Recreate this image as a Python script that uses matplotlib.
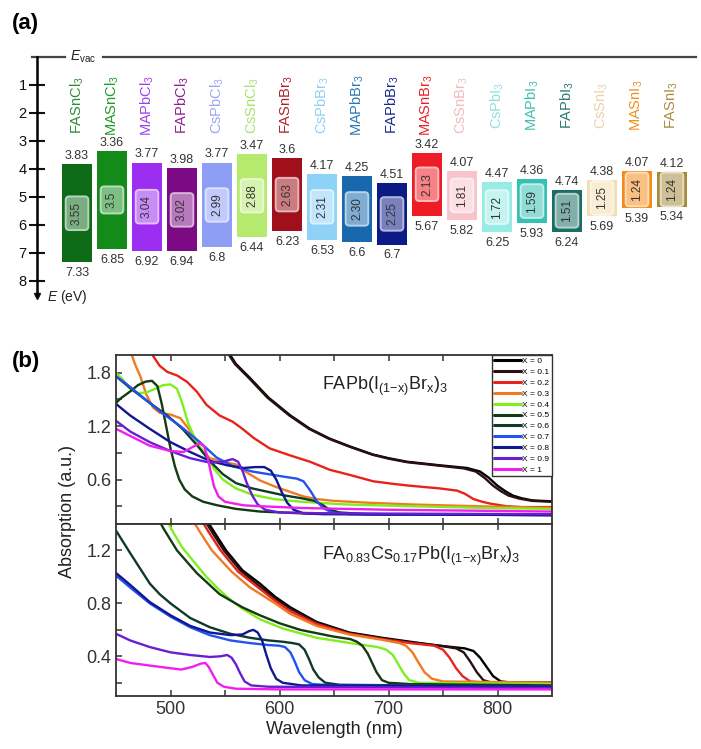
import matplotlib
matplotlib.use("Agg")
import matplotlib.pyplot as plt
from matplotlib.colors import to_rgb

plt.rcParams['font.family'] = ['Liberation Sans', 'DejaVu Sans']
plt.rcParams['mathtext.fontset'] = 'custom'
plt.rcParams['mathtext.rm'] = 'Liberation Sans'
plt.rcParams['mathtext.it'] = 'Liberation Sans:italic'
plt.rcParams['mathtext.bf'] = 'Liberation Sans:bold'

# ---------------- panel (a) data ----------------
materials = ["FASnCl$_3$", "MASnCl$_3$", "MAPbCl$_3$", "FAPbCl$_3$", "CsPbCl$_3$", "CsSnCl$_3$",
             "FASnBr$_3$", "CsPbBr$_3$", "MAPbBr$_3$", "FAPbBr$_3$", "MASnBr$_3$", "CsSnBr$_3$",
             "CsPbI$_3$", "MAPbI$_3$", "FAPbI$_3$", "CsSnI$_3$", "MASnI$_3$", "FASnI$_3$"]
cbm = [3.83, 3.36, 3.77, 3.98, 3.77, 3.47, 3.6, 4.17, 4.25, 4.51, 3.42, 4.07, 4.47, 4.36, 4.74, 4.38, 4.07, 4.12]
vbm = [7.33, 6.85, 6.92, 6.94, 6.8, 6.44, 6.23, 6.53, 6.6, 6.7, 5.67, 5.82, 6.25, 5.93, 6.24, 5.69, 5.39, 5.34]
cbm_text = ["3.83", "3.36", "3.77", "3.98", "3.77", "3.47", "3.6", "4.17", "4.25", "4.51", "3.42", "4.07",
            "4.47", "4.36", "4.74", "4.38", "4.07", "4.12"]
vbm_text = ["7.33", "6.85", "6.92", "6.94", "6.8", "6.44", "6.23", "6.53", "6.6", "6.7", "5.67", "5.82",
            "6.25", "5.93", "6.24", "5.69", "5.39", "5.34"]
gaps = ["3.55", "3.5", "3.04", "3.02", "2.99", "2.88", "2.63", "2.31", "2.30", "2.25", "2.13", "1.81",
        "1.72", "1.59", "1.51", "1.25", "1.24", "1.24"]
bar_colors = ["#0d6b18", "#138a1a", "#9b2ef0", "#7d0a85", "#8f9ef5", "#b5ea6e", "#a0101a", "#8fd2f8",
              "#1768ad", "#0c1a85", "#ee1c24", "#f8c4cc", "#98ece6", "#35c2b4", "#1b6e62", "#f2deb0",
              "#f58c1a", "#a58a3c"]
label_colors = ["#2e8b34", "#1f9a28", "#a040f0", "#8a208f", "#9aa6f2", "#a8e070", "#b0202a", "#90d0f2",
                "#2a78b8", "#1a2890", "#e82028", "#f4b8c0", "#90e0dc", "#3cc0b2", "#2a7a6c", "#e8d4a4",
                "#f09020", "#a88a40"]
e_ticks = [1, 2, 3, 4, 5, 6, 7, 8]

# ---------------- panel (b) data: FAPb(I1-xBrx)3 ----------------
compositions = ["X = 0", "X = 0.1", "X = 0.2", "X = 0.3", "X = 0.4", "X = 0.5",
                "X = 0.6", "X = 0.7", "X = 0.8", "X = 0.9", "X = 1"]
line_colors = ["#000000", "#2a1010", "#e8231a", "#f07a24", "#80ee1e", "#143a12",
               "#0e3a2a", "#2252f0", "#0e1890", "#6a1ed2", "#f01ef0"]

fa_x00 = [(552, 2.05), (560, 1.90), (573, 1.74), (590, 1.52), (610, 1.32), (628, 1.17), (646, 1.06),
          (665, 0.97), (686, 0.88), (700, 0.84), (717, 0.80), (747, 0.76), (772, 0.73), (784, 0.69),
          (792, 0.62), (800, 0.53), (807, 0.47), (814, 0.42), (822, 0.39), (832, 0.365), (850, 0.355)]
fa_x01 = [(551, 2.05), (559, 1.90), (572, 1.74), (589, 1.52), (609, 1.32), (627, 1.17), (645, 1.06),
          (664, 0.97), (685, 0.88), (700, 0.835), (717, 0.795), (747, 0.755), (769, 0.725), (780, 0.69),
          (788, 0.62), (796, 0.53), (803, 0.47), (810, 0.42), (820, 0.385), (832, 0.36), (850, 0.35)]
fa_x02 = [(481, 2.05), (484, 1.99), (490, 1.88), (497, 1.81), (506, 1.77), (515, 1.70), (524, 1.59),
          (533, 1.44), (545, 1.32), (557, 1.25), (566, 1.17), (576, 1.07), (591, 0.95), (610, 0.87),
          (628, 0.80), (646, 0.71), (665, 0.65), (686, 0.58), (705, 0.55), (720, 0.53), (747, 0.50),
          (763, 0.475), (770, 0.44), (778, 0.38), (786, 0.35), (793, 0.33), (808, 0.30), (823, 0.29),
          (850, 0.29)]
fa_x03 = [(463, 2.05), (468, 1.88), (472, 1.77), (478, 1.55), (484, 1.41), (490, 1.35), (500, 1.33),
          (509, 1.29), (518, 1.15), (527, 0.96), (536, 0.84), (548, 0.80), (560, 0.77), (570, 0.68),
          (582, 0.59), (596, 0.52), (610, 0.46), (622, 0.41), (634, 0.38), (650, 0.36), (680, 0.34),
          (720, 0.32), (780, 0.30), (850, 0.28)]
fa_x04 = [(450, 1.80), (455, 1.74), (462, 1.63), (470, 1.57), (478, 1.58), (486, 1.62), (493, 1.66),
          (500, 1.67), (506, 1.62), (511, 1.45), (516, 1.24), (521, 1.10), (527, 0.97), (533, 0.86),
          (540, 0.72), (548, 0.60), (560, 0.50), (575, 0.43), (595, 0.38), (620, 0.35), (660, 0.32),
          (720, 0.30), (790, 0.28), (850, 0.27)]
fa_x05 = [(450, 1.46), (454, 1.51), (463, 1.59), (470, 1.66), (477, 1.70), (483, 1.71), (488, 1.65),
          (492, 1.45), (496, 1.20), (500, 0.95), (504, 0.75), (508, 0.60), (513, 0.49), (520, 0.41),
          (530, 0.35), (543, 0.31), (560, 0.27), (582, 0.24), (620, 0.22), (700, 0.21), (850, 0.20)]
fa_x06 = [(450, 1.76), (465, 1.61), (480, 1.47), (497, 1.32), (511, 1.17), (524, 0.99), (536, 0.81),
          (548, 0.66), (560, 0.56), (575, 0.50), (590, 0.46), (605, 0.42), (620, 0.39), (632, 0.36),
          (640, 0.31), (646, 0.26), (655, 0.23), (680, 0.21), (850, 0.21)]
fa_x07 = [(450, 1.76), (457, 1.70), (473, 1.54), (491, 1.36), (509, 1.20), (527, 1.02), (542, 0.85),
          (557, 0.75), (575, 0.69), (590, 0.66), (605, 0.63), (616, 0.61), (622, 0.58), (628, 0.48),
          (634, 0.36), (640, 0.28), (648, 0.23), (665, 0.21), (850, 0.20)]
fa_x08 = [(450, 1.45), (463, 1.32), (481, 1.17), (500, 1.02), (518, 0.91), (536, 0.81), (552, 0.76),
          (567, 0.73), (578, 0.74), (586, 0.74), (592, 0.70), (597, 0.60), (602, 0.46), (607, 0.34),
          (613, 0.26), (622, 0.22), (640, 0.21), (850, 0.20)]
fa_x09 = [(450, 1.26), (463, 1.14), (481, 1.02), (500, 0.92), (518, 0.84), (536, 0.79), (548, 0.80),
          (557, 0.83), (562, 0.80), (566, 0.70), (570, 0.56), (575, 0.42), (580, 0.32), (587, 0.26),
          (600, 0.23), (640, 0.22), (850, 0.21)]
fa_x10 = [(450, 1.17), (463, 1.09), (481, 0.98), (500, 0.92), (512, 0.91), (521, 0.97), (527, 1.01),
          (531, 0.97), (534, 0.85), (537, 0.68), (540, 0.52), (544, 0.41), (550, 0.35), (567, 0.31),
          (582, 0.30), (620, 0.28), (700, 0.26), (850, 0.24)]

# ---------------- panel (b) data: FA0.83Cs0.17Pb(I1-xBrx)3 ----------------
cs_x00 = [(534, 1.42), (540, 1.34), (551, 1.20), (566, 1.05), (582, 0.95), (596, 0.85), (610, 0.77),
          (634, 0.66), (664, 0.58), (694, 0.54), (720, 0.51), (747, 0.48), (770, 0.46), (778, 0.44),
          (784, 0.39), (790, 0.32), (796, 0.25), (803, 0.21), (815, 0.20), (850, 0.20)]
cs_x01 = [(532, 1.42), (538, 1.34), (549, 1.20), (564, 1.05), (580, 0.94), (595, 0.84), (610, 0.76),
          (634, 0.655), (664, 0.575), (694, 0.535), (720, 0.505), (747, 0.48), (762, 0.46), (769, 0.43),
          (775, 0.36), (781, 0.28), (787, 0.22), (795, 0.20), (850, 0.20)]
cs_x02 = [(529, 1.42), (535, 1.34), (546, 1.20), (562, 1.04), (582, 0.91), (596, 0.82), (610, 0.74),
          (634, 0.645), (664, 0.57), (694, 0.53), (720, 0.50), (742, 0.48), (750, 0.45), (756, 0.39),
          (762, 0.31), (768, 0.25), (775, 0.21), (790, 0.20), (850, 0.20)]
cs_x03 = [(521, 1.42), (527, 1.34), (538, 1.20), (556, 1.04), (573, 0.92), (596, 0.80), (610, 0.72),
          (634, 0.63), (664, 0.565), (694, 0.525), (710, 0.50), (716, 0.48), (722, 0.43), (727, 0.36),
          (733, 0.28), (740, 0.23), (750, 0.21), (850, 0.20)]
cs_x04 = [(497, 1.42), (503, 1.33), (511, 1.22), (521, 1.12), (533, 1.00), (545, 0.90), (556, 0.82),
          (566, 0.76), (582, 0.68), (603, 0.61), (634, 0.54), (665, 0.50), (690, 0.47), (698, 0.45),
          (704, 0.41), (709, 0.34), (714, 0.27), (719, 0.22), (728, 0.20), (850, 0.19)]
cs_x05 = [(490, 1.42), (494, 1.36), (506, 1.20), (524, 1.03), (545, 0.87), (566, 0.77), (582, 0.71),
          (600, 0.65), (619, 0.60), (649, 0.55), (665, 0.53), (671, 0.51), (676, 0.48), (681, 0.42),
          (685, 0.35), (689, 0.28), (694, 0.22), (700, 0.20), (720, 0.19), (850, 0.18)]
cs_x06 = [(450, 1.35), (463, 1.18), (481, 0.95), (490, 0.87), (500, 0.80), (518, 0.69), (536, 0.62),
          (555, 0.57), (573, 0.54), (590, 0.52), (603, 0.51), (612, 0.50), (618, 0.49), (623, 0.45),
          (627, 0.38), (631, 0.30), (636, 0.24), (642, 0.20), (655, 0.185), (850, 0.17)]
cs_x07 = [(450, 1.01), (463, 0.92), (481, 0.80), (500, 0.70), (518, 0.62), (536, 0.56), (555, 0.52),
          (573, 0.50), (590, 0.485), (600, 0.48), (605, 0.47), (610, 0.43), (614, 0.36), (618, 0.28),
          (623, 0.22), (630, 0.19), (650, 0.18), (850, 0.17)]
cs_x08 = [(450, 1.03), (463, 0.94), (481, 0.81), (500, 0.71), (518, 0.63), (536, 0.58), (555, 0.56),
          (566, 0.565), (572, 0.59), (576, 0.60), (580, 0.58), (584, 0.52), (588, 0.41), (592, 0.31),
          (597, 0.23), (603, 0.20), (620, 0.18), (850, 0.17)]
cs_x09 = [(450, 0.57), (463, 0.52), (481, 0.47), (500, 0.43), (518, 0.41), (536, 0.395), (546, 0.40),
          (552, 0.41), (556, 0.39), (560, 0.34), (564, 0.27), (568, 0.21), (574, 0.18), (590, 0.17),
          (850, 0.16)]
cs_x10 = [(450, 0.38), (463, 0.35), (481, 0.33), (500, 0.31), (510, 0.30), (520, 0.32), (528, 0.345),
          (532, 0.35), (535, 0.32), (539, 0.26), (543, 0.20), (549, 0.17), (560, 0.155), (600, 0.15),
          (850, 0.15)]

fa_series = [fa_x00, fa_x01, fa_x02, fa_x03, fa_x04, fa_x05, fa_x06, fa_x07, fa_x08, fa_x09, fa_x10]
cs_series = [cs_x00, cs_x01, cs_x02, cs_x03, cs_x04, cs_x05, cs_x06, cs_x07, cs_x08, cs_x09, cs_x10]


def mix(color, amount):
    r, g, b = to_rgb(color)
    return (r + (1 - r) * amount, g + (1 - g) * amount, b + (1 - b) * amount)


W, H = 701, 749
fig = plt.figure(figsize=(W / 100, H / 100), dpi=100)

# ---------------- panel (a) ----------------
# energy axis: E=0 at y=57 px, 28 px per eV; bar i centred at x = 77 + 35 i px
top_px, bot_px = 57 - 0.3 * 28, 57 + 8.7 * 28
axa = fig.add_axes([37 / W, 1 - bot_px / H, 660 / W, (bot_px - top_px) / H])
axa.set_xlim((37 - 77) / 35, (697 - 77) / 35)
axa.set_ylim(8.7, -0.3)
for s in ["top", "right", "bottom"]:
    axa.spines[s].set_visible(False)
axa.spines["left"].set_bounds(0, 8.5)
axa.spines["left"].set_linewidth(1.8)
axa.set_xticks([])
axa.set_yticks(e_ticks)
axa.set_yticklabels([str(t) for t in e_ticks])
axa.tick_params(axis="y", direction="inout", length=11, width=1.5, labelsize=10.5, pad=2,
                colors="#111111")
axa.plot([axa.get_xlim()[0]], [8.55], marker="v", color="#111111", markersize=5, clip_on=False)
axa.text(-0.87, 8.57, "$E$ (eV)", fontsize=10, va="center", ha="left", color="#222222")

xs = list(range(len(materials)))
heights = [b - t for t, b in zip(cbm, vbm)]
axa.bar(xs, heights, bottom=cbm, width=0.83, color=bar_colors, edgecolor="none")

# vacuum level
axa.plot([(32 - 77) / 35, (65 - 77) / 35], [0, 0], color="#444444", lw=1.6, clip_on=False)
axa.plot([(103 - 77) / 35, (696 - 77) / 35], [0, 0], color="#444444", lw=1.6, clip_on=False)
axa.text((70 - 77) / 35, 0, r"$E_{\rm vac}$", fontsize=10, va="center", ha="left", color="#222222")

for i in xs:
    axa.text(i, 1.72, materials[i], rotation=90, ha="center", va="center", fontsize=10.5,
             color=label_colors[i])
    axa.annotate(cbm_text[i], (i, cbm[i]), xytext=(0, 1.5), textcoords="offset points",
                 ha="center", va="bottom", fontsize=9, color="#333333")
    axa.annotate(vbm_text[i], (i, vbm[i]), xytext=(0, -3.5), textcoords="offset points",
                 ha="center", va="top", fontsize=9, color="#333333")
    axa.text(i, (cbm[i] + vbm[i]) / 2, gaps[i], rotation=90, ha="center", va="center",
             fontsize=8.5, color="#333333",
             bbox=dict(boxstyle="round,pad=0.45,rounding_size=0.3", facecolor=mix(bar_colors[i], 0.45),
                       edgecolor=mix(bar_colors[i], 0.7), lw=1.4))

fig.text(12 / W, 1 - 24 / H, "(a)", fontsize=16, fontweight="bold", va="center", ha="left")
fig.text(12 / W, 1 - 362 / H, "(b)", fontsize=16, fontweight="bold", va="center", ha="left")

# ---------------- panel (b) ----------------
axt = fig.add_axes([116 / W, 1 - 524 / H, 436 / W, 169 / H])
axb = fig.add_axes([116 / W, 1 - 696 / H, 436 / W, 172 / H])

for ax, series in [(axt, fa_series), (axb, cs_series)]:
    for k, pts in enumerate(series):
        wl = [p[0] for p in pts]
        ab = [p[1] for p in pts]
        ax.plot(wl, ab, color=line_colors[k], lw=1.7, label=compositions[k],
                solid_joinstyle="round", solid_capstyle="round")
    ax.set_xlim(450, 850)
    ax.set_xticks([500, 600, 700, 800])
    ax.set_xticks([550, 650, 750], minor=True)
    for s in ax.spines.values():
        s.set_linewidth(1.3)
        s.set_color("#333333")
    ax.tick_params(which="both", direction="in", top=True, length=4, width=1.1, labelsize=13,
                   colors="#333333")

axt.set_ylim(0.1, 2.0)
axt.set_yticks([0.6, 1.2, 1.8])
axt.set_yticks([0.3, 0.9, 1.5], minor=True)
axt.tick_params(labelbottom=False)

axb.set_ylim(0.1, 1.4)
axb.set_yticks([0.4, 0.8, 1.2])
axb.set_yticks([0.2, 0.6, 1.0], minor=True)
axb.set_xlabel("Wavelength (nm)", fontsize=13, color="#222222", labelpad=2)

fig.text(67 / W, 1 - 512 / H, "Absorption (a.u.)", rotation=90, fontsize=13, color="#222222",
         ha="center", va="center")

axt.text(0.472, 0.793, r"FAPb(I$_{\mathrm{(1\!-\!x)}}$Br$_{\mathrm{x}}$)$_3$", transform=axt.transAxes,
         fontsize=13, va="baseline", ha="left", color="#222222")
axb.text(0.472, 0.79, r"FA$_{0.83}$Cs$_{0.17}$Pb(I$_{\mathrm{(1\!-\!x)}}$Br$_{\mathrm{x}}$)$_3$",
         transform=axb.transAxes, fontsize=13, va="baseline", ha="left", color="#222222")

leg = axt.legend(loc="upper right", bbox_to_anchor=(1, 1), borderaxespad=0, fontsize=6,
                 handlelength=3.2, handletextpad=0.2, labelspacing=0.36, borderpad=0.3,
                 fancybox=False, edgecolor="#333333", framealpha=1)
leg.get_frame().set_linewidth(1.0)
for line in leg.get_lines():
    line.set_linewidth(2.2)

fig.savefig("out.png", dpi=100)
